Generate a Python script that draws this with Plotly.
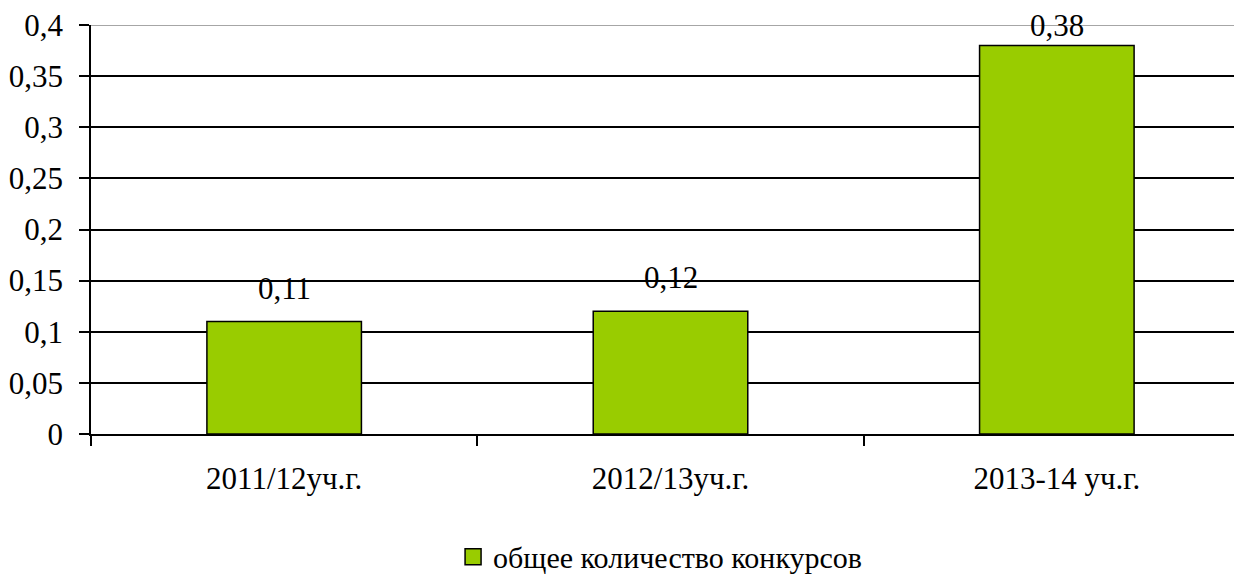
import plotly.graph_objects as go

categories = ["2011/12уч.г.", "2012/13уч.г.", "2013-14 уч.г."]
values = [0.11, 0.12, 0.38]
value_labels = ["0,11", "0,12", "0,38"]
series_name = "общее количество конкурсов"
y_tickvals = [0, 0.05, 0.1, 0.15, 0.2, 0.25, 0.3, 0.35, 0.4]
y_ticktext = ["0", "0,05", "0,1", "0,15", "0,2", "0,25", "0,3", "0,35", "0,4"]

FONT = "Liberation Serif"
GREEN = "#99CC00"
label_shifts = [15, 15, 1]

fig = go.Figure()
fig.add_trace(go.Bar(
    x=categories, y=values, name=series_name,
    marker=dict(color=GREEN, line=dict(color="black", width=1.5)),
    showlegend=False,
))
# legend entry with a larger square swatch
fig.add_trace(go.Scatter(
    x=[None], y=[None], mode="markers", name=series_name,
    marker=dict(symbol="square", size=16, color=GREEN, line=dict(color="black", width=1.5)),
    showlegend=True,
))

for c, v, t, s in zip(categories, values, value_labels, label_shifts):
    fig.add_annotation(x=c, y=v, text=t, showarrow=False, yanchor="bottom",
                       yshift=s, borderpad=0,
                       font=dict(family=FONT, size=31, color="black"))

fig.add_shape(type="line", xref="paper", yref="y", x0=0, x1=1, y0=0.4, y1=0.4,
              line=dict(color="#888888", width=1.5), layer="above")

fig.update_layout(
    template="none",
    width=1242, height=576,
    margin=dict(l=83, r=0, t=17, b=150, autoexpand=False),
    paper_bgcolor="white", plot_bgcolor="white",
    bargap=0.6,
    separators=", ",
    font=dict(family=FONT, color="black"),
    legend=dict(orientation="h", x=0.491, xanchor="center", y=-0.30, yanchor="middle",
                font=dict(family=FONT, size=30, color="black"),
                itemwidth=30, tracegroupgap=0),
    xaxis=dict(
        range=[-0.5, 2.5], automargin=False,
        showline=True, linecolor="black", linewidth=1.5,
        ticks="outside", tickson="boundaries", ticklen=10, tickwidth=1.5, tickcolor="black",
        tickfont=dict(family=FONT, size=31, color="black"),
        ticklabelstandoff=16,
        showgrid=False,
    ),
    yaxis=dict(
        range=[0, 0.4], automargin=False,
        tickvals=y_tickvals, ticktext=y_ticktext,
        showline=True, linecolor="black", linewidth=1.5,
        ticks="outside", ticklen=10, tickwidth=1.5, tickcolor="black",
        tickfont=dict(family=FONT, size=31, color="black"),
        ticklabelstandoff=10,
        ticklabeloverflow="allow",
        showgrid=True, gridcolor="black", gridwidth=1.5,
        zeroline=False,
    ),
)

fig.write_html("out.html")
